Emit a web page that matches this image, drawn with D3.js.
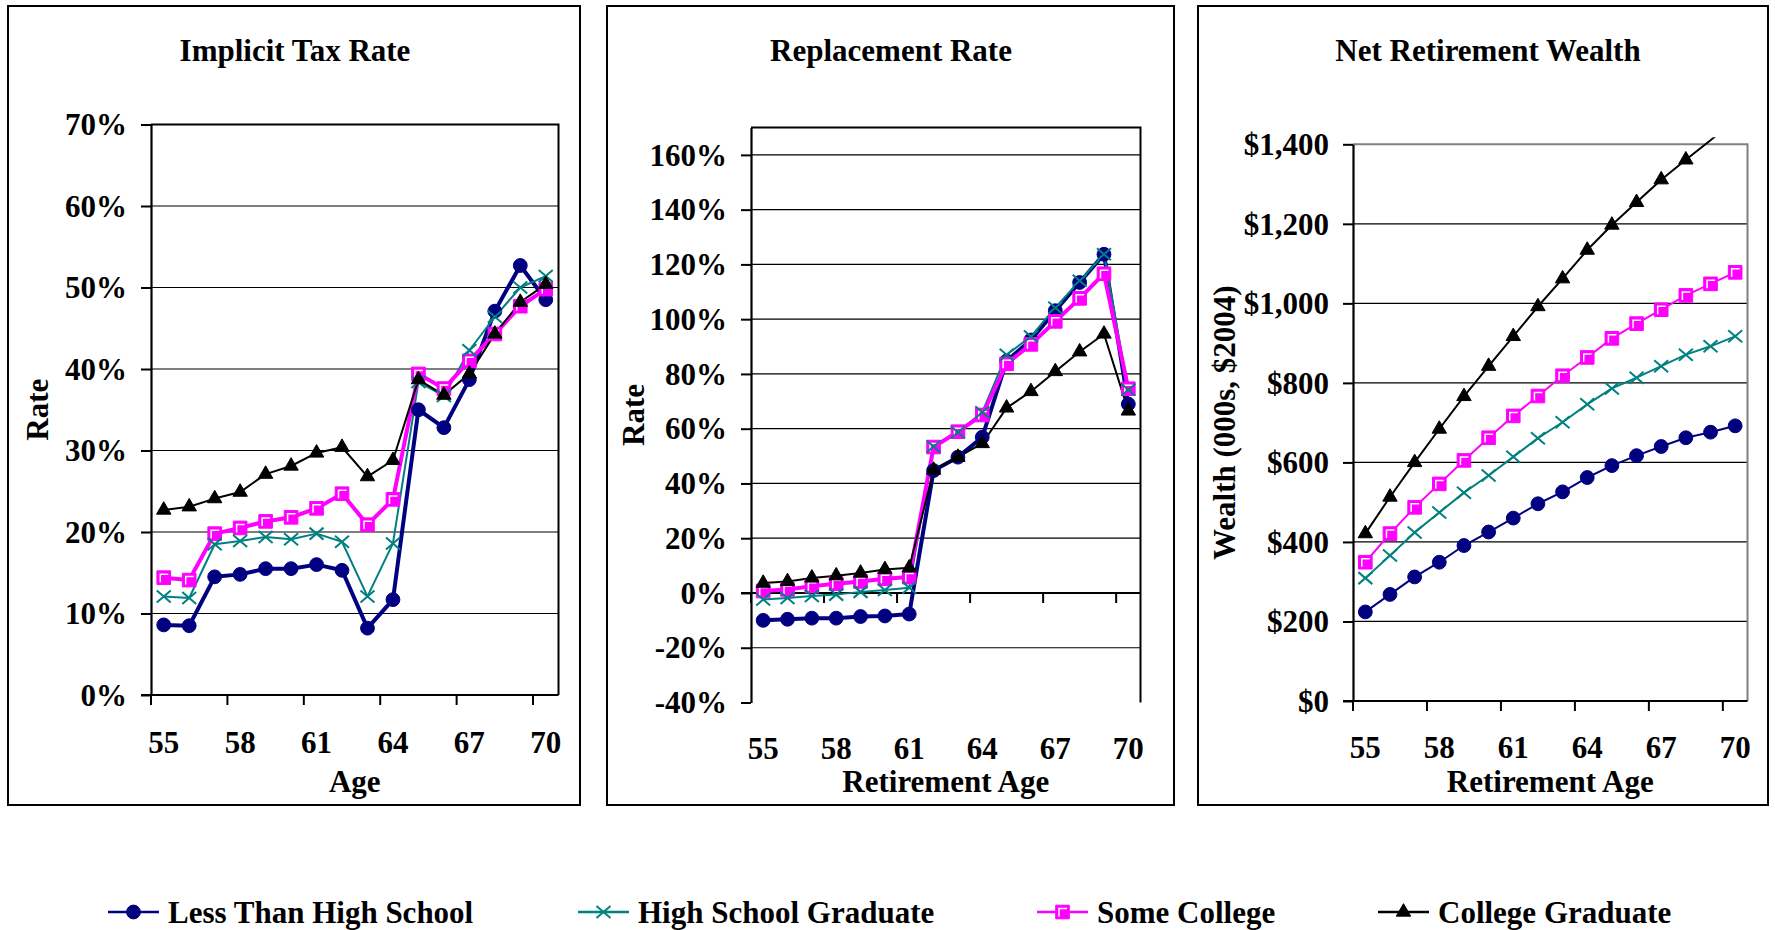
<!DOCTYPE html>
<html>
<head>
<meta charset="utf-8">
<script src="https://cdn.jsdelivr.net/npm/d3@7"></script>
<style>
  body { margin: 0; background: #fff; }
  text { font-family: "Liberation Serif", "Times New Roman", serif; font-weight: bold; fill: #000; }
</style>
</head>
<body>
<svg id="chart" width="1775" height="930"></svg>
<script>
// ---------------- DATA ----------------
const ages = [55, 56, 57, 58, 59, 60, 61, 62, 63, 64, 65, 66, 67, 68, 69, 70];
const ageTickLabels = [55, 58, 61, 64, 67, 70];
const seriesNames = ["Less Than High School", "High School Graduate", "Some College", "College Graduate"];

const panelTitles = ["Implicit Tax Rate", "Replacement Rate", "Net Retirement Wealth"];
const xTitles = ["Age", "Retirement Age", "Retirement Age"];
const yTitles = ["Rate", "Rate", "Wealth (000s, $2004)"];

// Implicit tax rate (%)
const taxLessHS  = [8.6, 8.5, 14.5, 14.8, 15.5, 15.5, 16.0, 15.3, 8.2, 11.7, 35.0, 32.8, 38.7, 47.1, 52.7, 48.5];
const taxHSGrad  = [12.1, 11.9, 18.5, 18.9, 19.4, 19.1, 19.8, 18.8, 12.1, 18.6, 38.4, 36.7, 42.3, 46.4, 50.0, 51.4];
const taxSomeCol = [14.4, 14.1, 19.8, 20.5, 21.3, 21.8, 22.9, 24.7, 20.9, 24.0, 39.4, 37.6, 41.0, 44.3, 47.7, 49.8];
const taxColGrad = [22.7, 23.1, 24.1, 24.9, 27.1, 28.1, 29.7, 30.4, 26.8, 28.8, 38.7, 36.8, 39.4, 44.3, 48.2, 50.4];
const taxTicks = [0, 10, 20, 30, 40, 50, 60, 70];

// Replacement rate (%)
const rrLessHS  = [-10.0, -9.6, -9.2, -9.2, -8.6, -8.4, -7.7, 44.7, 49.6, 56.9, 84.7, 92.4, 103.1, 113.4, 123.7, 69.0];
const rrHSGrad  = [-2.4, -1.8, -1.1, -0.6, 0.4, 1.1, 1.9, 53.5, 58.7, 66.0, 87.0, 93.7, 104.2, 114.0, 123.7, 74.2];
const rrSomeCol = [0.7, 1.3, 2.5, 3.4, 4.2, 5.2, 5.8, 53.3, 58.9, 65.0, 83.7, 90.8, 99.2, 107.6, 116.6, 74.6];
const rrColGrad = [3.6, 4.2, 5.5, 6.3, 7.3, 8.6, 9.2, 44.9, 49.6, 54.6, 67.6, 73.6, 80.9, 88.1, 94.6, 66.5];
const rrTicks = [-40, -20, 0, 20, 40, 60, 80, 100, 120, 140, 160];

// Net retirement wealth (000s, $2004)
const nrwLessHS  = [224, 268, 312, 349, 391, 425, 460, 496, 526, 562, 592, 617, 640, 662, 676, 692];
const nrwHSGrad  = [309, 366, 424, 474, 524, 567, 614, 661, 701, 746, 786, 813, 842, 871, 892, 917];
const nrwSomeCol = [349, 421, 487, 546, 605, 662, 717, 767, 818, 864, 912, 949, 984, 1020, 1049, 1078];
const nrwColGrad = [421, 513, 600, 684, 766, 842, 917, 992, 1062, 1134, 1197, 1254, 1311, 1361, 1410, 1462];
const nrwTicks = [0, 200, 400, 600, 800, 1000, 1200, 1400];

// ---------------- LAYOUT / STYLE ----------------
const FONT = 31;
const panelData = [
  { series: [taxLessHS, taxHSGrad, taxSomeCol, taxColGrad], ticks: taxTicks, domain: [0, 70], fmt: v => v + "%" },
  { series: [rrLessHS, rrHSGrad, rrSomeCol, rrColGrad], ticks: rrTicks, domain: [-40, 170], fmt: v => v + "%" },
  { series: [nrwLessHS, nrwHSGrad, nrwSomeCol, nrwColGrad], ticks: nrwTicks, domain: [0, 1400], fmt: v => "$" + d3.format(",")(v) }
];
const layout = [
  { box: [8, 6, 580, 805], plot: [151, 124.5, 558.5, 695], xLabelY: 753, titleX: 295, yTitleX: 47.5, frame: "#000", lineW: [4, 2, 4, 2], axisAtZero: false },
  { box: [607, 6, 1174, 805], plot: [751, 127.5, 1140.5, 702.5], xLabelY: 759, titleX: 891, yTitleX: 644, frame: "#000", lineW: [4, 2, 4, 2], axisAtZero: true },
  { box: [1198, 6, 1768, 805], plot: [1353, 144.3, 1747.5, 701], xLabelY: 758, titleX: 1488, yTitleX: 1235, frame: "#808080", lineW: [2, 2, 2, 2], axisAtZero: false }
];
const xTitleY = 792;
const seriesStyle = [
  { color: "#000080", marker: "circle" },
  { color: "#008080", marker: "x" },
  { color: "#FF00FF", marker: "square" },
  { color: "#000000", marker: "triangle" }
];
const legendX = [108, 578, 1037, 1378];
const legendY = 912;

const svg = d3.select("#chart");

function drawMarker(g, type, color) {
  if (type === "circle") {
    g.append("path").attr("d", d3.symbol(d3.symbolCircle, 150)()).attr("fill", color).attr("stroke", color).attr("stroke-width", 1);
  } else if (type === "square") {
    g.append("path").attr("d", d3.symbol(d3.symbolSquare, 185)()).attr("fill", color).attr("stroke", color).attr("stroke-width", 1);
    g.append("path").attr("d", "M-3.5,4.5V-3.5H4.5").attr("fill", "none").attr("stroke", "#fff").attr("stroke-width", 1.5);
  } else if (type === "triangle") {
    g.append("path").attr("d", d3.symbol(d3.symbolTriangle, 90)()).attr("fill", color).attr("stroke", color).attr("stroke-width", 1);
  } else if (type === "x") {
    g.append("path").attr("d", "M-7,-6L7,6M-7,6L7,-6").attr("fill", "none").attr("stroke", color).attr("stroke-width", 2);
  }
}

panelData.forEach((pd, pi) => {
  const L = layout[pi];
  const [l, t, r, b] = L.plot;
  const g = svg.append("g");

  // panel frame
  g.append("rect").attr("x", L.box[0]).attr("y", L.box[1])
    .attr("width", L.box[2] - L.box[0]).attr("height", L.box[3] - L.box[1])
    .attr("fill", "#fff").attr("stroke", "#000").attr("stroke-width", 2);

  // title
  g.append("text").attr("x", L.titleX).attr("y", 61).attr("text-anchor", "middle")
    .style("font-size", FONT + "px").text(panelTitles[pi]);

  const x = d3.scaleBand().domain(ages).range([l, r]).paddingInner(0).paddingOuter(0);
  const bw = x.bandwidth();
  const cx = a => x(a) + bw / 2;
  const y = d3.scaleLinear().domain(pd.domain).range([b, t]);

  // gridlines
  g.append("g").selectAll("line").data(pd.ticks.filter(v => v !== pd.domain[1] && v !== pd.domain[0]))
    .join("line")
    .attr("x1", l).attr("x2", r).attr("y1", d => y(d)).attr("y2", d => y(d))
    .attr("stroke", "#000").attr("stroke-width", 1.2);

  // plot border (top & right)
  g.append("path").attr("d", `M${l},${t}H${r}V${b}`).attr("fill", "none")
    .attr("stroke", L.frame).attr("stroke-width", 2);

  // y axis
  const yAxis = g.append("g").attr("transform", `translate(${l},0)`)
    .call(d3.axisLeft(y).tickValues(pd.ticks).tickSize(10).tickSizeOuter(0).tickPadding(14).tickFormat(pd.fmt));
  yAxis.select(".domain").attr("stroke", "#000").attr("stroke-width", 2.2);
  yAxis.selectAll(".tick line").attr("stroke", "#000").attr("stroke-width", 2);
  yAxis.selectAll(".tick text").attr("fill", "#000").style("font-size", FONT + "px")
    .style("font-family", '"Liberation Serif", "Times New Roman", serif').style("font-weight", "bold")
    .attr("dy", "0.33em");

  // x axis line & ticks (ticks between categories, every 3 categories)
  const xAxisY = L.axisAtZero ? y(0) : b;
  g.append("line").attr("x1", l - 10).attr("x2", r).attr("y1", xAxisY).attr("y2", xAxisY)
    .attr("stroke", "#000").attr("stroke-width", 2.2);
  const tickXs = ageTickLabels.map((a, i) => i < ageTickLabels.length - 1 ? x(a) : x(ages[ages.length - 1]));
  g.append("g").selectAll("line").data(tickXs).join("line")
    .attr("x1", d => d).attr("x2", d => d).attr("y1", xAxisY).attr("y2", xAxisY + 10)
    .attr("stroke", "#000").attr("stroke-width", 2);

  // x labels
  g.append("g").selectAll("text").data(ageTickLabels).join("text")
    .attr("x", d => cx(d)).attr("y", L.xLabelY).attr("text-anchor", "middle")
    .style("font-size", FONT + "px").text(d => d);

  // axis titles
  g.append("text").attr("x", (l + r) / 2).attr("y", xTitleY).attr("text-anchor", "middle")
    .style("font-size", FONT + "px").text(xTitles[pi]);
  g.append("text").attr("transform", `translate(${L.yTitleX},${(t + b) / 2}) rotate(-90)`)
    .attr("text-anchor", "middle").style("font-size", FONT + "px").text(yTitles[pi]);

  // clip
  const clipId = "clip" + pi;
  svg.append("clipPath").attr("id", clipId).append("rect")
    .attr("x", l - 15).attr("y", t - 7).attr("width", r - l + 30).attr("height", b - t + 30);

  const line = d3.line().x((d, i) => cx(ages[i])).y(d => y(d));
  const series = g.append("g").attr("clip-path", `url(#${clipId})`);
  pd.series.forEach((vals, si) => {
    series.append("path").datum(vals).attr("d", line).attr("fill", "none")
      .attr("stroke", seriesStyle[si].color).attr("stroke-width", L.lineW[si])
      .attr("stroke-linejoin", "round");
  });
  const markerOrder = [0, 2, 1, 3];
  markerOrder.forEach(si => {
    const vals = pd.series[si];
    vals.forEach((v, i) => {
      if (v > pd.domain[1] || v < pd.domain[0]) return;
      const mg = series.append("g").attr("transform", `translate(${cx(ages[i])},${y(v)})`);
      drawMarker(mg, seriesStyle[si].marker, seriesStyle[si].color);
    });
  });
});

// legend
const lg = svg.append("g");
seriesNames.forEach((name, i) => {
  const x0 = legendX[i];
  const st = seriesStyle[i];
  lg.append("line").attr("x1", x0).attr("x2", x0 + 51).attr("y1", legendY).attr("y2", legendY)
    .attr("stroke", st.color).attr("stroke-width", 2.5);
  const mg = lg.append("g").attr("transform", `translate(${x0 + 25.5},${legendY})`);
  drawMarker(mg, st.marker, st.color);
  lg.append("text").attr("x", x0 + 60).attr("y", 923).style("font-size", FONT + "px").text(name);
});
</script>
</body>
</html>
